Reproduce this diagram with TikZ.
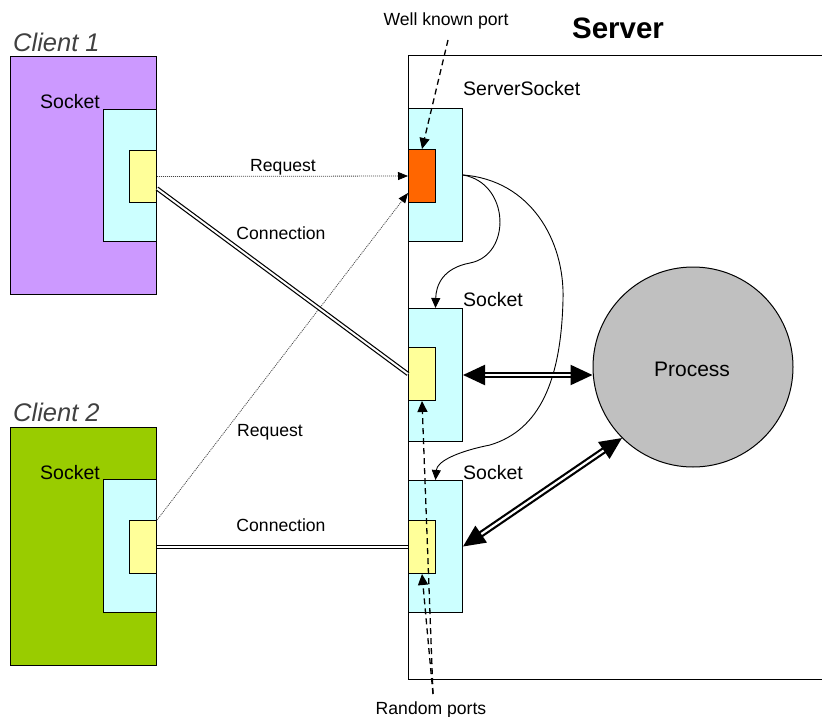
\documentclass[tikz,border=0pt]{standalone}
\usepackage{fontspec}
\setmainfont{Liberation Sans}
\usetikzlibrary{arrows.meta,calc}

\definecolor{clientA}{HTML}{CC99FF}
\definecolor{clientB}{HTML}{99CC00}
\definecolor{sockfill}{HTML}{CCFFFF}
\definecolor{portfill}{HTML}{FFFF99}
\definecolor{listenfill}{HTML}{FF6600}
\definecolor{procfill}{HTML}{C0C0C0}
\definecolor{dotline}{HTML}{444444}

\tikzset{
  box/.style={draw=black, line width=1pt, inner sep=0pt, anchor=north west},
  small/.style={font=\fontsize{17.6}{19}\selectfont, inner sep=0pt},
  socklbl/.style={font=\fontsize{19.5}{22}\selectfont, inner sep=0pt, anchor=west},
  clientlbl/.style={font=\fontsize{25.5}{27}\selectfont\itshape, inner sep=0pt, anchor=west, text=black!75},
  req/.style={draw=dotline, line width=0.8pt, dash pattern=on 1pt off 1pt,
              -{Triangle[length=10pt,width=8pt,color=black]}},
  conn/.style={double, line width=1.2pt, double distance=2pt},
  portarrow/.style={line width=1.3pt, dash pattern=on 6pt off 4pt,
              -{Triangle[length=11pt,width=10pt]}},
  flow/.style={line width=0.9pt, -{Triangle[length=10pt,width=9pt]}},
  link/.style={double, line width=2.2pt, double distance=2.2pt,
              {Triangle[length=22pt,width=20pt]}-{Triangle[length=22pt,width=20pt]}},
}

\begin{document}
\begin{tikzpicture}[x=1pt,y=-1pt]
\useasboundingbox (0,0) rectangle (822,717);

% server frame (its right side runs off the page)
\coordinate (srvTR) at (822,56);
\coordinate (srvBR) at (822,679);
\draw[line width=1pt] (srvTR) -| (408,679) -- (srvBR);
\node[font=\fontsize{29.5}{31}\selectfont\bfseries, inner sep=0pt] (srv) at (618,28) {Server};

% client 1
\node[clientlbl] (c1lbl) at (13,42) {Client 1};
\node[box, fill=clientA, minimum width=146pt, minimum height=238pt] (c1) at (10,56) {};
\node[box, fill=sockfill, minimum width=53pt, minimum height=132pt] (c1s) at (103,109) {};
\node[box, fill=portfill, minimum width=27pt, minimum height=52pt] (c1p) at (129,150) {};
\node[socklbl] (c1slbl) at (40,102) {Socket};

% client 2
\node[clientlbl] (c2lbl) at (13,412) {Client 2};
\node[box, fill=clientB, minimum width=146pt, minimum height=238pt] (c2) at (10,427) {};
\node[box, fill=sockfill, minimum width=53pt, minimum height=133pt] (c2s) at (103,479) {};
\node[box, fill=portfill, minimum width=27pt, minimum height=53pt] (c2p) at (129,520) {};
\node[socklbl] (c2slbl) at (40,473) {Socket};

% server sockets
\node[box, fill=sockfill, minimum width=54pt, minimum height=133pt] (ss) at (408,108) {};
\node[box, fill=listenfill, minimum width=27pt, minimum height=53pt] (ssp) at (408,149) {};
\node[socklbl] (sslbl) at (463,89) {ServerSocket};

\node[box, fill=sockfill, minimum width=54pt, minimum height=133pt] (s2) at (408,308) {};
\node[box, fill=portfill, minimum width=27pt, minimum height=53pt] (s2p) at (408,347) {};
\node[socklbl] (s2lbl) at (463,300) {Socket};

\node[box, fill=sockfill, minimum width=54pt, minimum height=132pt] (s3) at (408,480) {};
\node[box, fill=portfill, minimum width=27pt, minimum height=53pt] (s3p) at (408,520) {};
\node[socklbl] (s3lbl) at (463,473) {Socket};

% process
\node[circle, draw=black, line width=1pt, fill=procfill, minimum size=200pt, inner sep=0pt]
  (proc) at (693,367) {};
\node[font=\fontsize{21}{23}\selectfont, inner sep=0pt] (proclbl) at (692,369) {Process};

% small labels
\node[small] (wkp) at (446,21) {Well known port};
\node[small] (rnd) at (431,710) {Random ports};
\node[small] (req1) at (283,167) {Request};
\node[small] (con1) at (281,233) {Connection};
\node[small] (req2) at (270,432) {Request};
\node[small] (con2) at (281,525) {Connection};

% requests
\draw[req] (c1p.east) -- (ssp.west);
\draw[req] (c2p.north east) -- ($(ssp.west)+(0,17)$);

% connections
\draw[conn] ($(c1p.east)+(0,12)$) -- (s2p.west);
\draw[conn] (c2p.east) -- (s3p.west);

% port pointers
\coordinate (wkpStart) at (448,40);
\draw[portarrow] (wkpStart) -- (ssp.north);
\coordinate (rndStart) at (433,694);
\draw[portarrow] (rndStart) -- (s2p.south);
\draw[portarrow] (rndStart) -- (s3p.south);

% accept: ServerSocket spawns sockets
\draw[flow] (ss.east) .. controls (510,183) and (512,255) .. (470,263)
  .. controls (443,268) and (436,285) .. (s2.north);
\draw[flow] (ss.east) .. controls (530,180) and (565,240) .. (563,300)
  .. controls (561,380) and (540,430) .. (490,445)
  .. controls (455,452) and (437,462) .. (s3.north);

% sockets talking to the process
\draw[link] (s2.east) -- (s2.east -| proc.west);
\draw[link] (s3.east) -- (proc.225);
\end{tikzpicture}
\end{document}
